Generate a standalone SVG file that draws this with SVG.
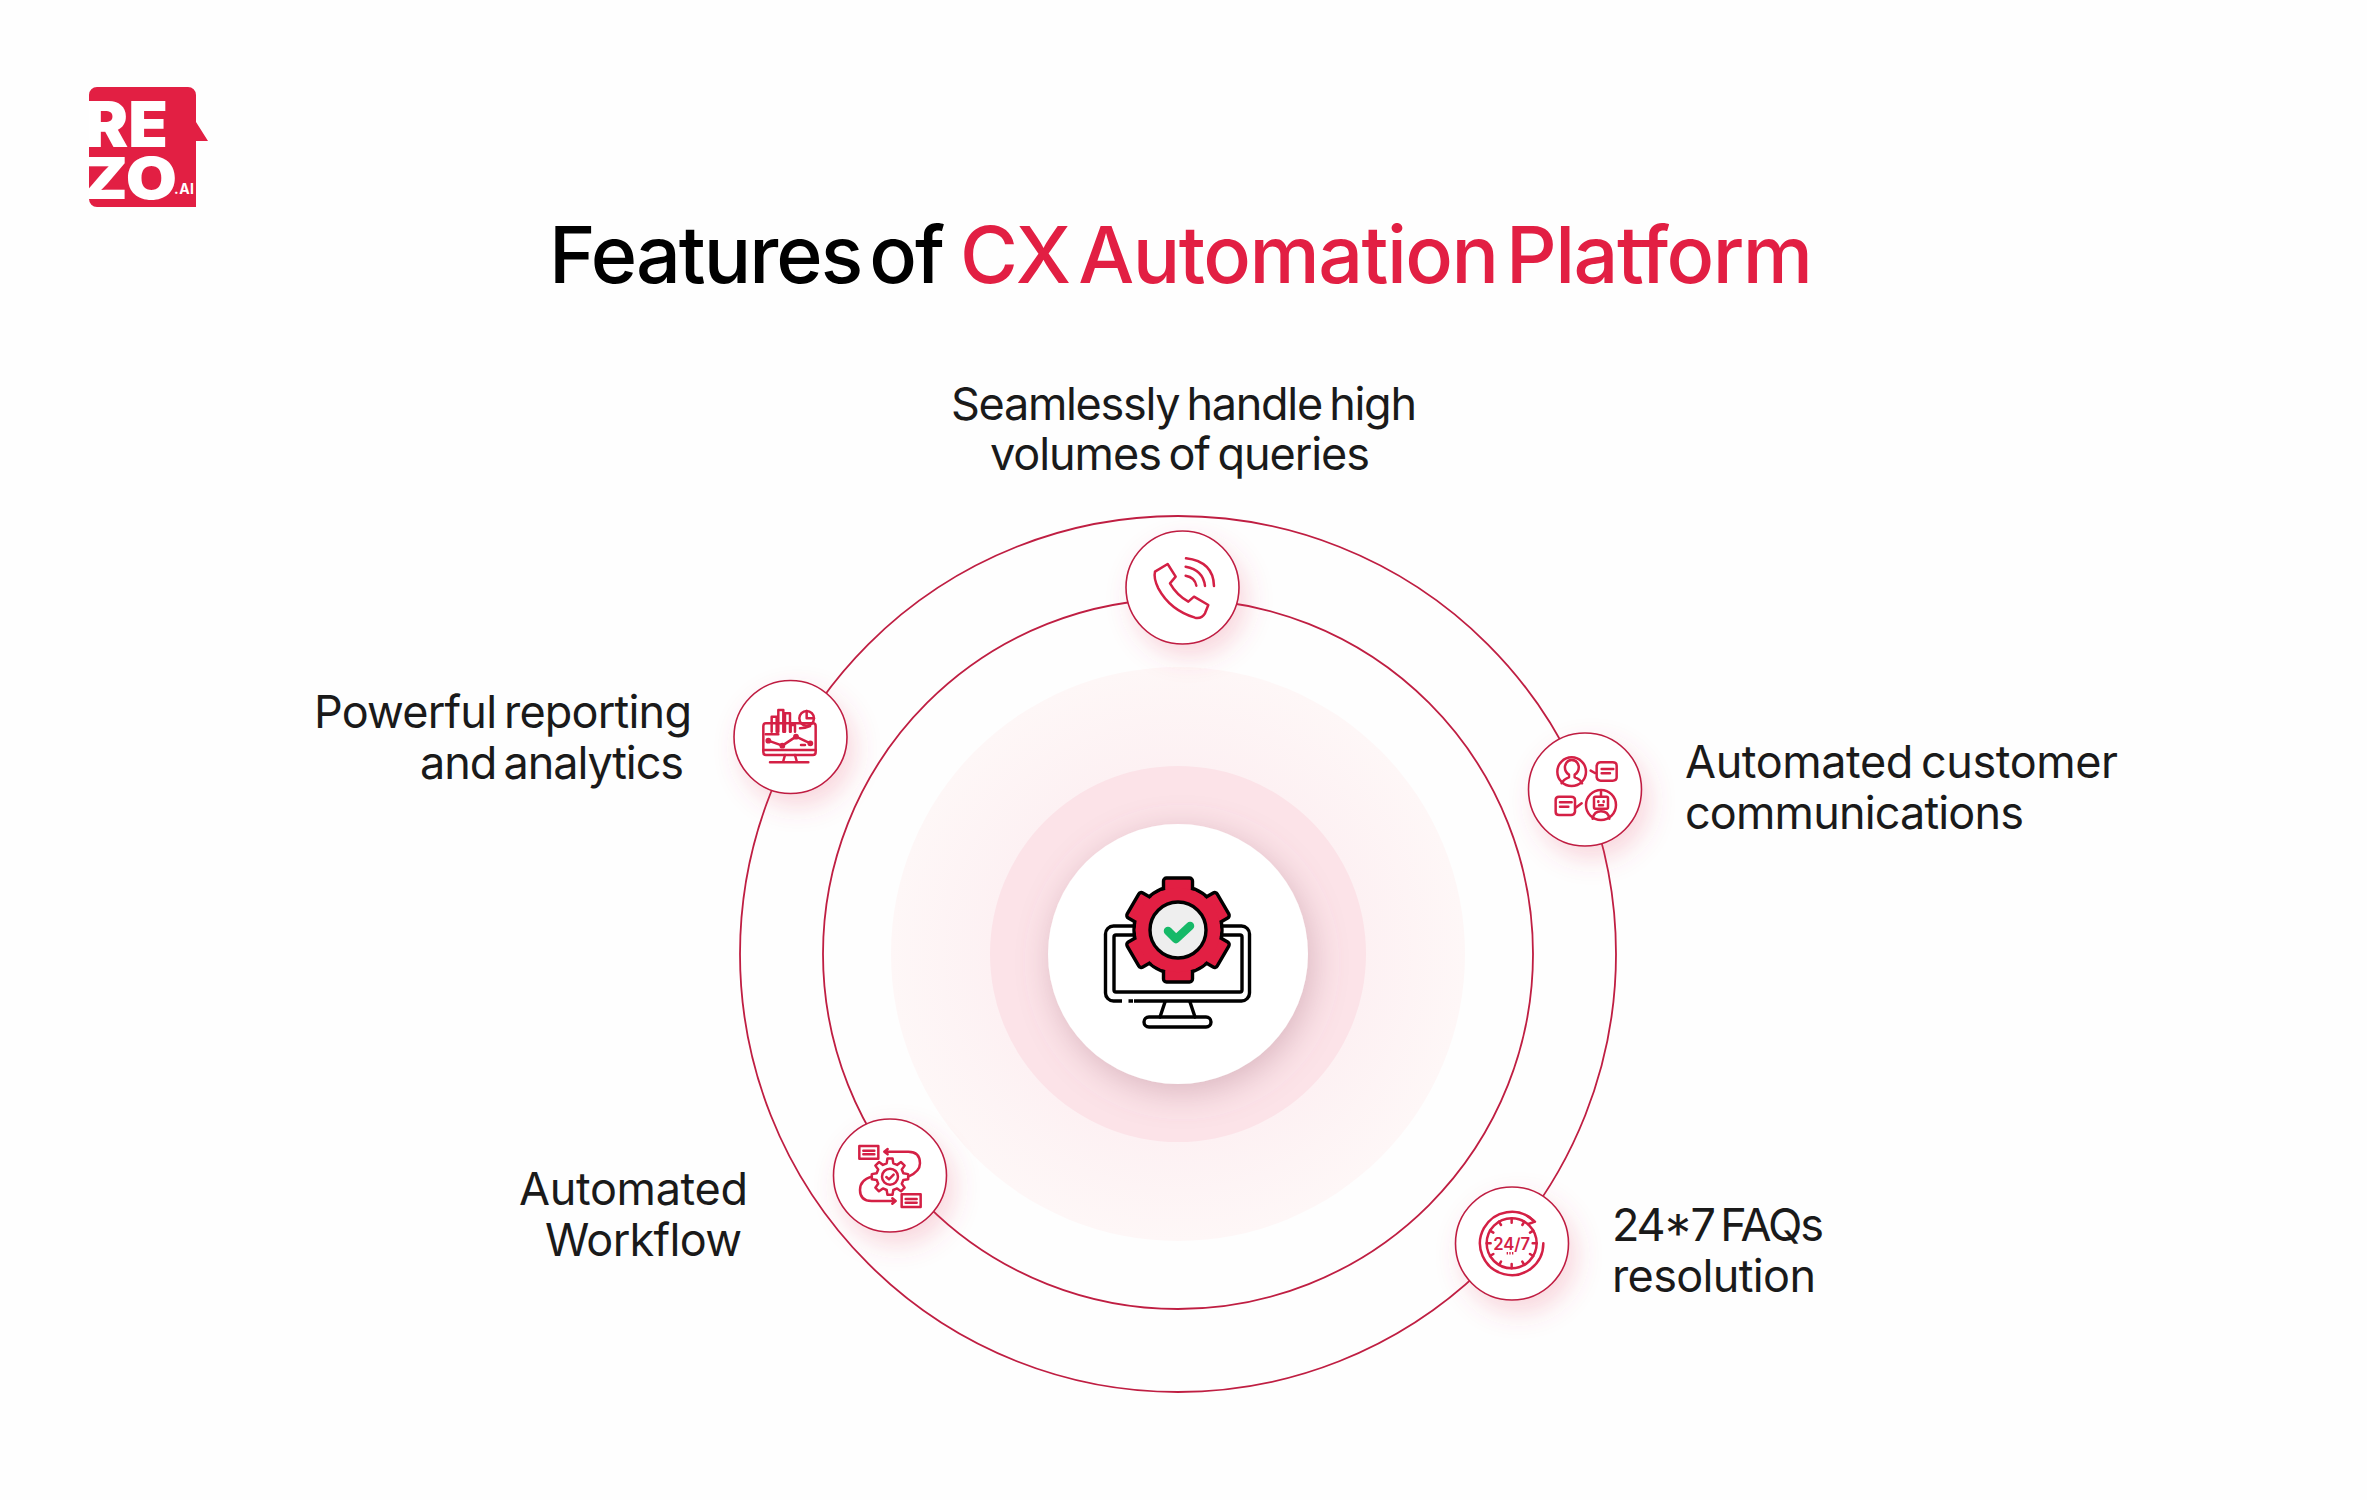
<svg xmlns="http://www.w3.org/2000/svg" xmlns:xlink="http://www.w3.org/1999/xlink" width="2367" height="1500" viewBox="0 0 2367 1500">
<style>
.t{font-family:"Inter","Liberation Sans",sans-serif}
.title{font-size:79px;font-weight:500;word-spacing:-11px}
.lab{font-size:45px;font-weight:400;fill:#1a1a1a;word-spacing:-4px}
.ring{fill:none;stroke:#bf1e42;stroke-width:1.8}
.nc{fill:#fff;stroke:#bf1e42;stroke-width:1.6;filter:url(#ns)}
.ic{fill:none;stroke:#d42045;stroke-width:7.5;stroke-linecap:round;stroke-linejoin:round}
.k{fill:none;stroke:#000;stroke-width:3.4;stroke-linejoin:round;stroke-linecap:round}
</style>
<defs>
<filter id="ns" x="-40%" y="-40%" width="190%" height="190%"><feDropShadow dx="7" dy="12" stdDeviation="13" flood-color="#e8486a" flood-opacity="0.22"/></filter>
<filter id="cs" x="-40%" y="-40%" width="180%" height="180%"><feDropShadow dx="4" dy="8" stdDeviation="17" flood-color="#9c6677" flood-opacity="0.36"/></filter>
<radialGradient id="lg"><stop offset="0.65" stop-color="#fdf1f3"/><stop offset="1" stop-color="#fef7f7"/></radialGradient>
<clipPath id="lc"><path d="M89 95a8 8 0 0 1 8-8h91a8 8 0 0 1 8 8v27l12 19h-12v66H97a8 8 0 0 1-8-8z"/></clipPath>
<rect id="tooth" x="-14.500" y="-52" width="29" height="14" rx="3" fill="#e21f43" stroke="#000" stroke-width="3.400"/>
</defs>
<rect width="2367" height="1500" fill="#fefefe"/>
<g id="logo">
<path d="M89 95a8 8 0 0 1 8-8h91a8 8 0 0 1 8 8v27l12 19h-12v66H97a8 8 0 0 1-8-8z" fill="#e21f43"/>
<g clip-path="url(#lc)" fill="#fff" font-family="Inter,'Liberation Sans',sans-serif" font-weight="900">
<text x="85" y="147" font-size="63" textLength="83" lengthAdjust="spacingAndGlyphs">RE</text>
<text x="82" y="199" font-size="58" textLength="95" lengthAdjust="spacingAndGlyphs">ZO</text>
<text x="174" y="194" font-size="14" font-weight="700" textLength="20">.AI</text>
</g>
</g>
<g id="title" class="t">
<text class="t title" x="549" y="283" fill="#000" textLength="396">Features of</text>
<text class="t title" x="960" y="283" fill="#e21f43" textLength="853">CX Automation Platform</text>
</g>
<circle id="halo-outer" cx="1178" cy="954" r="287" fill="url(#lg)"/>
<circle id="halo-inner" cx="1178" cy="954" r="188" fill="#fce3e8"/>
<g id="connectors">
<circle class="ring" cx="1178" cy="954" r="438"/>
<circle class="ring" cx="1178" cy="954" r="355"/>
</g>
<g id="node-center">
<circle cx="1178" cy="954" r="130" fill="#fff" filter="url(#cs)"/>
<rect class="k" x="1105.500" y="926" width="144" height="75" rx="8"/>
<rect class="k" x="1114" y="935" width="128" height="57" rx="2"/>
<path d="M1122 1001h6.500M1133 1001h1" stroke="#fff" stroke-width="5"/>
<path class="k" d="M1165 1002l-5 15M1190 1002l5 15"/>
<rect class="k" x="1144" y="1017" width="67" height="10" rx="5" fill="#fff"/>
<g transform="translate(1178 930)">
<circle r="44" fill="#e21f43" stroke="#000" stroke-width="3.400"/>
<use xlink:href="#tooth" href="#tooth"/>
<use xlink:href="#tooth" href="#tooth" transform="rotate(60)"/>
<use xlink:href="#tooth" href="#tooth" transform="rotate(120)"/>
<use xlink:href="#tooth" href="#tooth" transform="rotate(180)"/>
<use xlink:href="#tooth" href="#tooth" transform="rotate(240)"/>
<use xlink:href="#tooth" href="#tooth" transform="rotate(300)"/>
<circle r="42.300" fill="#e21f43"/>
<circle r="28" fill="#eee" stroke="#000" stroke-width="3.400"/>
<path d="M-10 1l8 8 14-13" fill="none" stroke="#16b968" stroke-width="8.500" stroke-linecap="round" stroke-linejoin="round"/>
</g>
</g>
<g id="node-queries">
<circle class="nc" cx="1182.500" cy="587.500" r="56.500"/>
<g class="ic" transform="translate(1120 520) scale(.3333)">
<path d="M105 155Q100 175 115 205Q150 270 225 293Q245 297 255 280L265 255L222 230L205 245Q170 225 150 190L167 170L143 132Z"/>
<path d="M198 115Q280 125 282 198M197 140Q250 150 255 198M197 167Q225 172 229 197"/>
</g>
<text class="t lab" x="951" y="420" textLength="466">Seamlessly handle high</text>
<text class="t lab" x="990" y="470" textLength="380">volumes of queries</text>
</g>
<g id="node-communications">
<circle class="nc" cx="1585" cy="789.500" r="56.500"/>
<g class="ic" transform="translate(1520 720) scale(.3333)">
<circle cx="155" cy="155" r="43"/>
<path d="M125 190Q130 178 147 172V164Q133 155 135 138Q140 120 155 120Q172 120 176 138Q178 155 164 164V172Q182 178 186 190"/>
<path d="M212 152L230 162V172Q232 182 242 182H278Q290 182 290 172V137Q290 127 278 127H242Q232 127 230 137V162"/>
<path d="M245 147H280M245 160H270"/>
<path d="M185 250L165 265V275Q163 285 153 285H117Q107 285 107 275V240Q107 230 117 230H153Q165 230 165 240V265"/>
<path d="M120 247H155M120 260H145"/>
<circle cx="243" cy="255" r="45"/>
<rect x="222" y="230" width="42" height="36" rx="4"/>
<path d="M243 216V230M218 296Q222 274 243 274Q265 274 268 296M235 244V246M251 244V246M237 256H249"/>
</g>
<text class="t lab" x="1685" y="778" textLength="433">Automated customer</text>
<text class="t lab" x="1685" y="829" textLength="339">communications</text>
</g>
<g id="node-faqs">
<circle class="nc" cx="1512" cy="1243.500" r="56.500"/>
<g class="ic" transform="translate(1450 1180) scale(.3333)">
<path d="M280 190A95 95 0 1 1 250 121"/>
<path d="M232 108L255 125L235 132"/>
<circle cx="185" cy="190" r="75"/>
<path d="M185 115V128M185 252V265M110 190H122M248 190H260M147 125L153 135M223 125L217 135M120 152L130 158M250 152L240 158M120 228L130 222M250 228L240 222M147 255L153 245M223 255L217 245"/>
<path d="M170 220H190" stroke-dasharray="4 4" stroke-linecap="butt"/>
<text x="185" y="210" text-anchor="middle" font-family="Inter,'Liberation Sans',sans-serif" font-weight="600" font-size="50" fill="#d42045" stroke="none" textLength="110">24/7</text>
</g>
<text class="t lab" x="1612" y="1241" textLength="212">24*7 FAQs</text>
<text class="t lab" x="1612" y="1292" textLength="204">resolution</text>
</g>
<g id="node-workflow">
<circle class="nc" cx="890" cy="1175.500" r="56.500"/>
<g class="ic" transform="translate(825 1115) scale(.3333)">
<rect x="103" y="93" width="57" height="38"/>
<path d="M115 107H148M115 118H148"/>
<rect x="230" y="238" width="57" height="38"/>
<path d="M242 252H275M242 263H275"/>
<path d="M250 185Q285 170 285 145Q285 110 250 110H178M188 102L178 110L188 118"/>
<path d="M140 185Q105 195 105 225Q105 258 140 258H212M202 250L212 258L202 266"/>
<g transform="translate(195 185)">
<path transform="scale(1.25)" stroke-width="6" d="M-8-32L-6.100-43.600H6.100L8-32L17-28.300L26.500-35.100L35.100-26.500L28.300-17L32-8L43.600-6.100V6.100L32 8L28.300 17L35.100 26.500L26.500 35.100L17 28.300L8 32L6.100 43.600H-6.100L-8 32L-17 28.300L-26.500 35.100L-35.100 26.500L-28.300 17L-32 8L-43.600 6.100V-6.100L-32-8L-28.300-17L-35.100-26.500L-26.500-35.100L-17-28.300Z"/>
<circle r="24"/>
<path d="M-11 1L-3 8L11-6"/>
</g>
</g>
<text class="t lab" x="519" y="1205" textLength="229">Automated</text>
<text class="t lab" x="545" y="1256" textLength="197">Workflow</text>
</g>
<g id="node-analytics">
<circle class="nc" cx="790.500" cy="737" r="56.500"/>
<g class="ic" transform="translate(725 675) scale(.3333)">
<rect x="115" y="145" width="157" height="95" rx="8"/>
<path d="M115 225H272M180 240L175 258M210 240L215 258M135 262H250M122 178H160M228 210H240M225 160Q240 160 255 153"/>
<path d="M140 170V125H155V170M160 170V105H175V170M180 170V115H195V170M197 170V150H210V170"/>
<path d="M130 197L172 212L213 185L256 205"/>
<circle cx="130" cy="197" r="5"/><circle cx="172" cy="212" r="5"/><circle cx="213" cy="185" r="5"/><circle cx="256" cy="205" r="5"/>
<circle cx="245" cy="130" r="22"/>
<path d="M245 108V130H267"/>
</g>
<text class="t lab" x="314" y="728" textLength="378">Powerful reporting</text>
<text class="t lab" x="420" y="779" textLength="264">and analytics</text>
</g>
</svg>
